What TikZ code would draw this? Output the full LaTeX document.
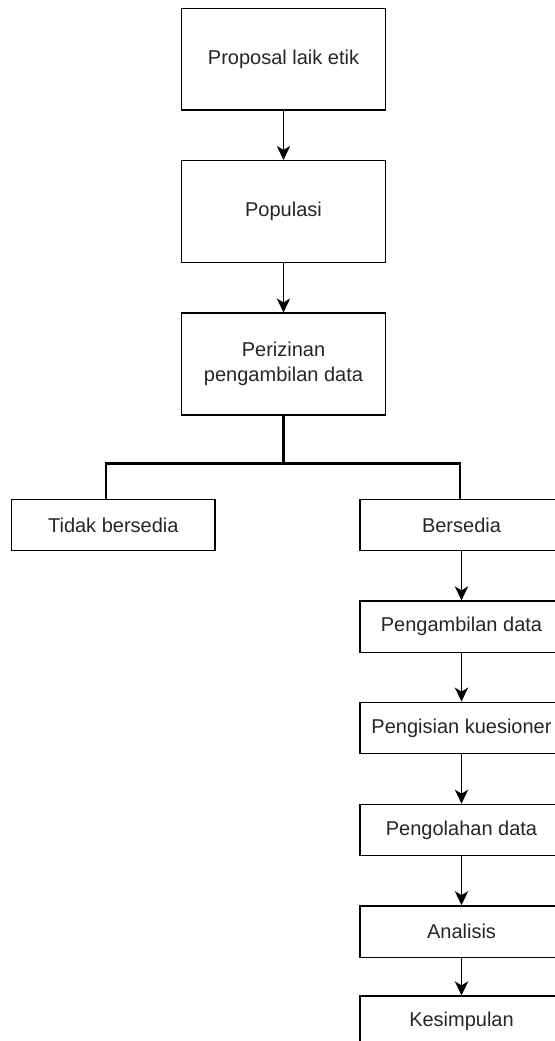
\documentclass[tikz,border=0pt]{standalone}
\usepackage{fontspec}
\setmainfont{Liberation Sans}
\usetikzlibrary{arrows.meta}
\tikzset{
  bigbox/.style={draw=black, line width=1pt, minimum width=153pt, minimum height=76.3pt, align=center, inner sep=0pt, text=black!85, font=\fontsize{15}{18.75}\selectfont},
  smallbox/.style={draw=black, line width=1pt, minimum width=152.3pt, minimum height=38.5pt, align=center, inner sep=0pt, text=black!85, font=\fontsize{15}{18.75}\selectfont},
  arr/.style={line width=1.1pt, -{Stealth[length=10.5pt, width=10pt, inset=3pt]}},
  branch/.style={line width=2.2pt, line join=miter}
}
\begin{document}
\begin{tikzpicture}[x=0.75pt,y=-0.75pt]
\useasboundingbox[fill=white] (0,0) rectangle (554,1041);
\node[bigbox] (p1) at (283.5,59.2) {Proposal laik etik};
\node[bigbox] (p2) at (283.5,211.5) {Populasi};
\node[bigbox] (p3) at (283.5,364) {Perizinan\\pengambilan data};
\node[smallbox] (tb) at (113.3,525) {Tidak bersedia};
\node[smallbox] (b) at (461.5,525) {Bersedia};
\node[smallbox] (pd) at (461.5,626.7) {Pengambilan data};
\node[smallbox] (pk) at (461.5,727.9) {Pengisian kuesioner};
\node[smallbox] (po) at (461.5,830) {Pengolahan data};
\node[smallbox] (an) at (461.5,931.5) {Analisis};
\node[smallbox] (ks) at (461.5,1021.7) {Kesimpulan};
\coordinate (j) at (283.5,463.3);
\coordinate (jl) at (106,463.3);
\coordinate (jr) at (460,463.3);
\draw[arr] (p1) -- (p2);
\draw[arr] (p2) -- (p3);
\draw[branch] (p3.south) -- (j);
\draw[branch] (jl |- tb.north) -- (jl) -- (jr) -- (jr |- b.north);
\draw[arr] (b) -- (pd);
\draw[arr] (pd) -- (pk);
\draw[arr] (pk) -- (po);
\draw[arr] (po) -- (an);
\draw[arr] (an) -- (ks);
\end{tikzpicture}
\end{document}
